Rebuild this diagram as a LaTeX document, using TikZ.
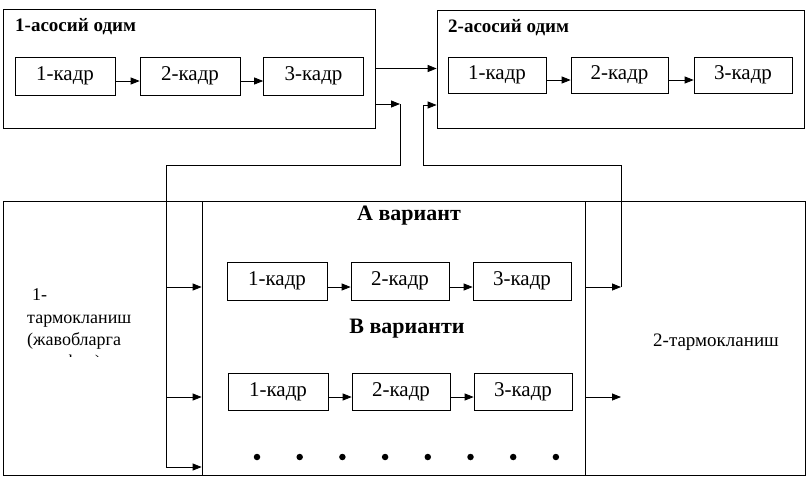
\documentclass[tikz,border=0pt]{standalone}
\usepackage{fontspec}
\setmainfont{Liberation Serif}
\usetikzlibrary{arrows.meta}
\begin{document}
\begin{tikzpicture}[x=1pt,y=-1pt,
  frame/.style={draw, line width=0.75pt, inner sep=0pt},
  kbox/.style={draw, line width=0.7pt, inner sep=0pt, minimum width=100pt, minimum height=38pt, font=\fontsize{21}{23}\selectfont},
  ttl/.style={inner sep=0pt, anchor=base west, font=\bfseries\fontsize{19}{21}\selectfont},
  vtl/.style={inner sep=0pt, font=\bfseries\fontsize{22}{24}\selectfont},
  lbl/.style={inner sep=0pt, anchor=base west, font=\fontsize{18}{22}\selectfont},
  arr/.style={-{Triangle[length=9pt,width=7pt]}, line width=0.8pt},
  ln/.style={line width=0.8pt},
  dotm/.style={circle, fill=black, inner sep=0pt, minimum size=6.5pt}
]
\fill[white] (0,0) rectangle (808,482);
\useasboundingbox (0,0) rectangle (808,482);

% main step 1
\node[frame, minimum width=372pt, minimum height=119pt] (main1) at (189,68.5) {};
\node[ttl] (t1) at (15,31) {1-асосий одим};
\node[kbox] (k11) at (65,76) {1-кадр};
\node[kbox] (k12) at (190,76) {2-кадр};
\node[kbox] (k13) at (313.5,76) {3-кадр};
\draw[arr] ([yshift=-5pt]k11.east) -- ([yshift=-5pt]k12.west);
\draw[arr] ([yshift=-5pt]k12.east) -- ([yshift=-5pt]k13.west);

% main step 2
\node[frame, minimum width=367pt, minimum height=118pt] (main2) at (620.5,69) {};
\node[ttl] (t2) at (448,32) {2-асосий одим};
\node[kbox, minimum width=98pt, minimum height=36pt] (k21) at (497,75) {1-кадр};
\node[kbox, minimum width=97pt, minimum height=36pt] (k22) at (619.5,75) {2-кадр};
\node[kbox, minimum width=98pt, minimum height=36pt] (k23) at (743,75) {3-кадр};
\draw[arr] ([yshift=-5pt]k21.east) -- ([yshift=-5pt]k22.west);
\draw[arr] ([yshift=-5pt]k22.east) -- ([yshift=-5pt]k23.west);

% bottom regions
\node[frame, minimum width=199pt, minimum height=274pt] (br1) at (102.5,338) {};
\node[frame, minimum width=383pt, minimum height=274pt] (varbox) at (393.5,338) {};
\node[frame, minimum width=220pt, minimum height=274pt] (br2) at (695,338) {};

\node[lbl] (l1) at (32,300) {1-};
\node[lbl] (l2) at (27,323) {тармокланиш};
\node[lbl] (l3) at (27,345) {(жавобларга};
\begin{scope}
  \clip (20,350) rectangle (190,356.5);
  \node[lbl] (l4) at (27,367) {мувофиқ)};
\end{scope}
\node[inner sep=0pt, font=\fontsize{19}{22}\selectfont] (r1) at (716,342) {2-тармокланиш};

% variant A
\node[vtl] (va) at (409,216) {А вариант};
\node[kbox] (a1) at (277,281) {1-кадр};
\node[kbox, minimum width=98pt] (a2) at (400,281) {2-кадр};
\node[kbox, minimum width=98pt] (a3) at (522,281) {3-кадр};
\draw[arr] ([yshift=-6pt]a1.east) -- ([yshift=-6pt]a2.west);
\draw[arr] ([yshift=-6pt]a2.east) -- ([yshift=-6pt]a3.west);

% variant B
\node[vtl] (vb) at (407,329) {В варианти};
\node[kbox, minimum height=37pt] (b1) at (278,391.5) {1-кадр};
\node[kbox, minimum width=98pt, minimum height=37pt] (b2) at (401,391.5) {2-кадр};
\node[kbox, minimum width=98pt, minimum height=37pt] (b3) at (523,391.5) {3-кадр};
\draw[arr] ([yshift=-5.5pt]b1.east) -- ([yshift=-5.5pt]b2.west);
\draw[arr] ([yshift=-5.5pt]b2.east) -- ([yshift=-5.5pt]b3.west);

% dots
\foreach \i in {0,...,7} {
  \node[dotm] (d\i) at ({257+42.7*\i},457) {};
}

% main1 -> main2
\draw[arr] (main1.east) -- (main1.east -| main2.west);

% left path: main1 -> branches
\coordinate (Lc) at (400,104);
\coordinate (Ld) at (400,165);
\coordinate (Le) at (166,165);
\coordinate (Lf) at (166,467);
\coordinate (Lb1) at (166,287);
\coordinate (Lb2) at (166,397);
\draw[arr] (main1.east |- Lc) -- (Lc);
\draw[ln] (Lc) -- (Ld) -- (Le) -- (Lf);
\draw[arr] (Lb1) -- (Lb1 -| varbox.west);
\draw[arr] (Lb2) -- (Lb2 -| varbox.west);
\draw[arr] (Lf) -- (Lf -| varbox.west);

% right path: variant A -> main2
\coordinate (Ra) at (621,287);
\coordinate (Rb) at (621,165);
\coordinate (Rc) at (423,165);
\coordinate (Rd) at (423,105);
\draw[arr] (varbox.east |- Ra) -- (Ra);
\draw[ln] (Ra) -- (Rb) -- (Rc) -- (Rd);
\draw[arr] (Rd) -- (Rd -| main2.west);

% variant B -> branch 2
\coordinate (Bo) at (621,397);
\draw[arr] (varbox.east |- Bo) -- (Bo);
\end{tikzpicture}
\end{document}
